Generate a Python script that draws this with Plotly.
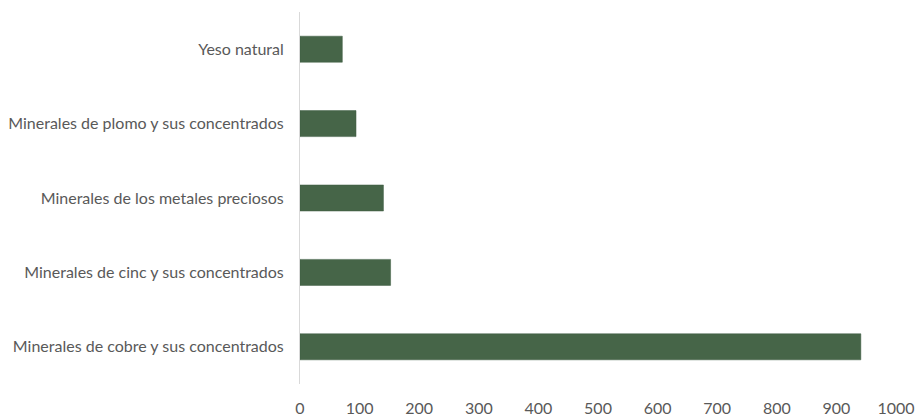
import plotly.graph_objects as go

categories = [
    "Minerales de cobre y sus concentrados",
    "Minerales de cinc y sus concentrados",
    "Minerales de los metales preciosos",
    "Minerales de plomo y sus concentrados",
    "Yeso natural",
]
values = [941, 152, 140, 94, 71]
x_ticks = [0, 100, 200, 300, 400, 500, 600, 700, 800, 900, 1000]

fig = go.Figure(
    go.Bar(
        x=values,
        y=categories,
        orientation="h",
        marker=dict(color="#466548", line=dict(color="#3f5c42", width=0.5)),
        width=0.35,
    )
)

fig.update_layout(
    width=917,
    height=416,
    margin=dict(l=300, r=21, t=12, b=32),
    paper_bgcolor="white",
    plot_bgcolor="white",
    font=dict(family="Lato, Carlito, Calibri, sans-serif", size=16, color="#595959"),
    showlegend=False,
    bargap=0.65,
)
fig.update_xaxes(
    range=[0, 1000],
    tickvals=x_ticks,
    ticktext=[str(v) for v in x_ticks],
    showgrid=False,
    zeroline=False,
    showline=False,
    ticks="outside",
    ticklen=10,
    tickcolor="rgba(0,0,0,0)",
    tickfont=dict(size=16, color="#595959"),
    automargin=False,
)
fig.update_yaxes(
    categoryorder="array",
    categoryarray=categories,
    showgrid=False,
    zeroline=False,
    showline=True,
    linecolor="#d9d9d9",
    linewidth=1,
    ticks="outside",
    ticklen=12,
    tickcolor="rgba(0,0,0,0)",
    tickfont=dict(size=16, color="#595959"),
    automargin=False,
)

fig.write_html(
    "out.html",
    config={"displayModeBar": False},
    post_script="document.body.style.margin='0';document.body.style.overflow='hidden';",
)
